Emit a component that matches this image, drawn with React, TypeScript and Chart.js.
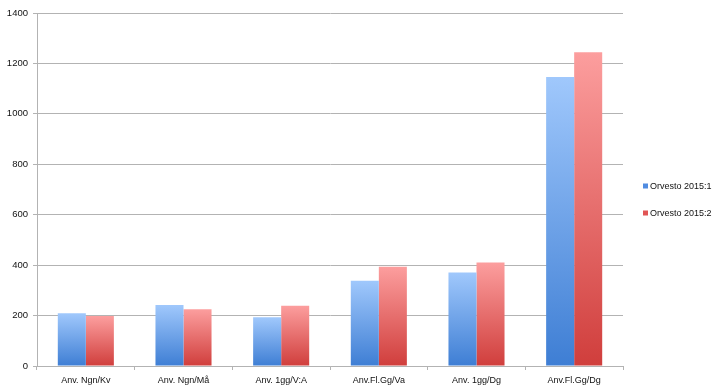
import React, { useEffect, useRef } from "react";
import { Chart, registerables } from "chart.js";

Chart.register(...registerables);

const categories = ["Anv. Ngn/Kv", "Anv. Ngn/Må", "Anv. 1gg/V:A", "Anv.Fl.Gg/Va", "Anv. 1gg/Dg", "Anv.Fl.Gg/Dg"];
const series1Name = "Orvesto 2015:1";
const series2Name = "Orvesto 2015:2";
const series1 = [209, 242, 193, 338, 371, 1146];
const series2 = [198, 225, 239, 394, 410, 1244];
const yTicks = [0, 200, 400, 600, 800, 1000, 1200, 1400];

const blueTop = "rgb(160,200,252)";
const blueBottom = "rgb(62,126,212)";
const redTop = "rgb(252,158,158)";
const redBottom = "rgb(208,62,60)";
const gridColor = "#b3b3b3";
const fontFamily = "'Liberation Sans', Arial, sans-serif";

function gradientFill(top: string, bottom: string) {
  return (ctx: any) => {
    const chart = ctx.chart;
    if (!chart.chartArea || !chart.scales.y) return bottom;
    const y = chart.scales.y;
    const v = ctx.raw as number;
    const yTop = y.getPixelForValue(v);
    const yBot = y.getPixelForValue(0);
    if (!isFinite(yTop) || !isFinite(yBot) || yTop === yBot) return bottom;
    const g = chart.ctx.createLinearGradient(0, yTop, 0, yBot);
    g.addColorStop(0, top);
    g.addColorStop(1, bottom);
    return g;
  };
}

const legendPlugin = {
  id: "sideLegend",
  afterDraw(chart: any) {
    const c = chart.ctx;
    const items = [
      { name: series1Name, color: "rgb(80,140,225)" },
      { name: series2Name, color: "rgb(225,85,85)" },
    ];
    c.save();
    c.font = `9px ${fontFamily}`;
    c.textBaseline = "middle";
    c.textAlign = "left";
    const x0 = chart.chartArea.right + 20;
    const yc = 200;
    items.forEach((it, i) => {
      const yy = yc - 13.5 + i * 27;
      c.fillStyle = it.color;
      c.fillRect(x0, yy - 3, 5, 5);
      c.fillStyle = "#111";
      c.fillText(it.name, x0 + 7, yy);
    });
    c.restore();
  },
};

export default function App() {
  const ref = useRef<HTMLCanvasElement | null>(null);
  useEffect(() => {
    document.body.style.margin = "0";
    if (!ref.current) return;
    const chart = new Chart(ref.current, {
      type: "bar",
      data: {
        labels: categories,
        datasets: [
          {
            label: series1Name,
            data: series1,
            backgroundColor: gradientFill(blueTop, blueBottom),
            borderWidth: 0,
          },
          {
            label: series2Name,
            data: series2,
            backgroundColor: gradientFill(redTop, redBottom),
            borderWidth: 0,
          },
        ],
      },
      options: {
        animation: false,
        responsive: true,
        maintainAspectRatio: false,
        layout: { padding: { top: 13, right: 103, left: 0, bottom: 0 } },
        plugins: {
          legend: { display: false },
          tooltip: { enabled: false },
        },
        datasets: {
          bar: { categoryPercentage: 0.574, barPercentage: 1 },
        },
        scales: {
          x: {
            grid: {
              offset: true,
              drawOnChartArea: false,
              drawTicks: true,
              tickLength: 4,
              color: gridColor,
            },
            border: { color: gridColor, width: 1 },
            ticks: {
              color: "#111",
              font: { family: fontFamily, size: 9 },
              padding: 5,
              maxRotation: 0,
              autoSkip: false,
            },
            afterFit: (s: any) => {
              s.height = 25;
            },
          },
          y: {
            min: 0,
            max: 1400,
            afterBuildTicks: (s: any) => {
              s.ticks = yTicks.map((v) => ({ value: v }));
            },
            grid: {
              color: gridColor,
              tickLength: 4,
              lineWidth: 1,
            },
            border: { color: gridColor, width: 1 },
            ticks: {
              color: "#111",
              font: { family: fontFamily, size: 9.5 },
              padding: 5,
              callback: (v: any) => String(v),
            },
            afterFit: (s: any) => {
              s.width = 37;
            },
          },
        },
      },
      plugins: [legendPlugin],
    });
    return () => chart.destroy();
  }, []);
  return (
    <div style={{ width: 726, height: 391, position: "relative", background: "#fff" }}>
      <canvas ref={ref} />
    </div>
  );
}
